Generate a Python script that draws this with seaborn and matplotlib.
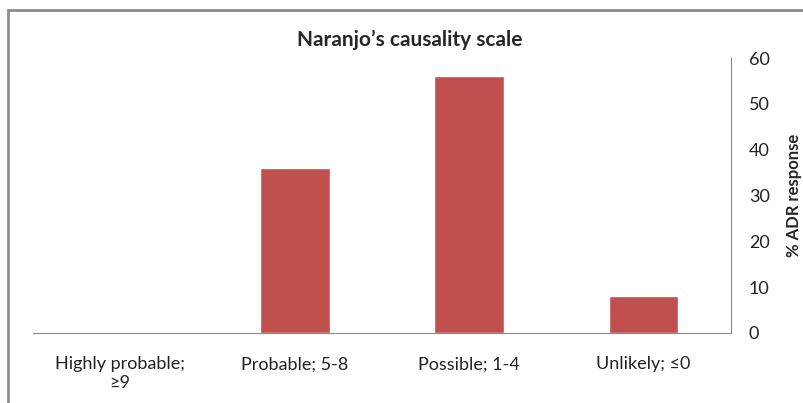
import pandas as pd
import seaborn as sns
import matplotlib.pyplot as plt
from matplotlib.patches import Rectangle

# Naranjo's causality scale values
categories = ["Highly probable;\n≥9", "Probable; 5-8", "Possible; 1-4", "Unlikely; ≤0"]
adr_response = [0, 36, 56, 8]
y_ticks = [0, 10, 20, 30, 40, 50, 60]

df = pd.DataFrame({"category": categories, "response": adr_response})

sns.set_style("white")
plt.rcParams['font.family'] = ['Lato', 'DejaVu Sans']

fig = plt.figure(figsize=(8.04, 4.03), dpi=100)
# chart frame, cut off at the right and bottom edges of the picture
fig.patches.append(Rectangle((8 / 804, -0.1), 1.2, (403 - 10) / 403 + 0.1,
                             transform=fig.transFigure, fill=False,
                             edgecolor='#8c8c8c', linewidth=2, zorder=0))
ax = fig.add_axes([0.041, 0.174, 0.868, 0.682])

sns.barplot(data=df, x="category", y="response", color='#C0504D',
            width=0.4, saturation=1, ax=ax)

ax.set_ylim(0, 60)
ax.set_yticks(y_ticks)
ax.yaxis.tick_right()
ax.yaxis.set_label_position("right")
ax.tick_params(axis='y', length=0, pad=13, labelsize=13, colors='#222222')
ax.tick_params(axis='x', length=0, pad=17, labelsize=13, colors='#222222')
ax.set_xlabel(None)
ax.set_ylabel("% ADR response", rotation=90, fontsize=12, fontweight='bold',
              labelpad=12)

for side in ['top', 'left']:
    ax.spines[side].set_visible(False)
ax.spines['right'].set_color('#888888')
ax.spines['bottom'].set_color('#888888')

fig.text(0.51, 0.9, "Naranjo’s causality scale", fontsize=15, fontweight='bold',
         ha='center', va='center')

fig.savefig("out.png", dpi=100)
